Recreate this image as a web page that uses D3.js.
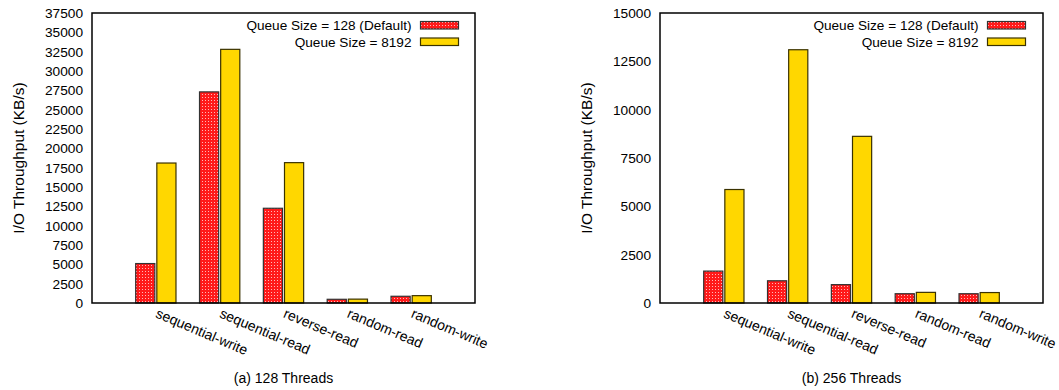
<!DOCTYPE html>
<html><head><meta charset="utf-8">
<script src="https://cdn.jsdelivr.net/npm/d3@7"></script>
<style>body{margin:0;background:#fff}svg{display:block}text{font-family:"Liberation Sans",Arial,sans-serif;fill:#000}</style>
</head><body><svg id="c" width="1059" height="390"></svg>
<script>
const categories = ["sequential-write","sequential-read","reverse-read","random-read","random-write"];
const seriesNames = ["Queue Size = 128 (Default)","Queue Size = 8192"];
const q128_a = [5100, 27300, 12250, 480, 870];
const q8192_a = [18100, 32800, 18150, 500, 950];
const q128_b = [1650, 1150, 950, 480, 480];
const q8192_b = [5870, 13100, 8620, 550, 540];
const ticks_a = d3.range(0, 37501, 2500);
const ticks_b = d3.range(0, 15001, 2500);
const yTitle = "I/O Throughput (KB/s)";
const captions = ["(a) 128 Threads","(b) 256 Threads"];

const svg = d3.select("#c");
const defs = svg.append("defs");
const pat = defs.append("pattern").attr("id","chk").attr("patternUnits","userSpaceOnUse").attr("width",3).attr("height",3);
pat.append("rect").attr("width",3).attr("height",3).attr("fill","#ff1a1a");
pat.append("rect").attr("x",1).attr("y",1).attr("width",1).attr("height",1).attr("fill","#ffb8b8");
const fills = ["url(#chk)","#ffd700"];
const strokes = ["#333","#3a3200"];

function panel(left, right, top, bottom, max, ticks, s1, s2, caption, legendEnd){
  const g = svg.append("g");
  const x = d3.scaleLinear().domain([-1,5]).range([left,right]);
  const y = d3.scaleLinear().domain([0,max]).range([bottom,top]);
  const slot = x(1)-x(0);
  const bw = slot*0.3;
  const ya = d3.axisLeft(y).tickValues(ticks).tickSize(0).tickPadding(9).tickFormat(d3.format("d"));
  const ag = g.append("g").attr("transform",`translate(${left},0)`).call(ya);
  ag.select(".domain").remove();
  ag.selectAll("text").style("font-size","13.7px").attr("font-family","Liberation Sans, Arial, sans-serif");
  const series=[s1,s2];
  series.forEach((vals,si)=>{
    g.selectAll(null).data(vals).enter().append("rect")
      .attr("x",(d,i)=> si===0 ? x(i)-1-bw : x(i)+1)
      .attr("y",d=>y(d)).attr("width",bw).attr("height",d=>bottom-y(d))
      .attr("fill",fills[si]).attr("stroke",strokes[si]).attr("stroke-width",1.2);
  });
  g.append("rect").attr("x",left).attr("y",top).attr("width",right-left).attr("height",bottom-top)
    .attr("fill","none").attr("stroke","#000").attr("stroke-width",1.5);
  categories.forEach((c,i)=>{
    g.append("text").attr("transform",`translate(${x(i)-1},${bottom+14}) rotate(23)`)
      .attr("text-anchor","start").style("font-size","14px").text(c);
  });
  g.append("text").attr("x",(left+right)/2).attr("y",383).attr("text-anchor","middle").style("font-size","14px").text(caption);
  g.append("text").attr("transform",`translate(${left-68},${(top+bottom)/2}) rotate(-90)`)
    .attr("text-anchor","middle").style("font-size","15.5px").text(yTitle);
  seriesNames.forEach((n,si)=>{
    const ly = 25 + si*16.5;
    g.append("text").attr("x",legendEnd).attr("y",ly+5).attr("text-anchor","end").style("font-size","13.6px").text(n);
    g.append("rect").attr("x",legendEnd+9).attr("y",ly-3.5).attr("width",38).attr("height",7.5)
      .attr("fill",fills[si]).attr("stroke",strokes[si]).attr("stroke-width",1.2);
  });
}
panel(92,475,13,303,37500,ticks_a,q128_a,q8192_a,captions[0],411.5);
panel(660,1043,13,303,15000,ticks_b,q128_b,q8192_b,captions[1],978.5);
</script></body></html>
